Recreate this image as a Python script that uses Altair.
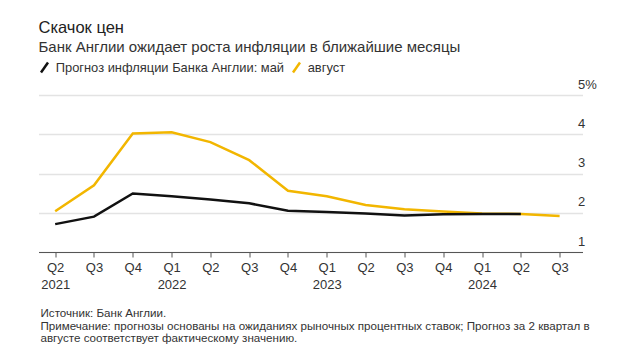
import json
import altair as alt
import pandas as pd

# ---- data ----
quarters = ["Q2", "Q3", "Q4", "Q1", "Q2", "Q3", "Q4", "Q1", "Q2", "Q3", "Q4", "Q1", "Q2", "Q3"]
years = ["2021", "", "", "2022", "", "", "", "2023", "", "", "", "2024", "", ""]
may_forecast = [1.71, 1.90, 2.49, 2.42, 2.34, 2.24, 2.05, 2.02, 1.98, 1.93, 1.96, 1.97, 1.97]
aug_forecast = [2.04, 2.70, 4.02, 4.05, 3.80, 3.34, 2.56, 2.42, 2.20, 2.09, 2.03, 1.98, 1.97, 1.92]
series_names = ["Прогноз инфляции Банка Англии: май", "август"]
series_colors = ["#111111", "#f2b600"]
y_ticks = [1, 2, 3, 4, 5]

title_text = "Скачок цен"
subtitle_text = "Банк Англии ожидает роста инфляции в ближайшие месяцы"
footer_lines = [
    "Источник: Банк Англии.",
    "Примечание: прогнозы основаны на ожиданиях рыночных процентных ставок; Прогноз за 2 квартал в",
    "августе соответствует фактическому значению.",
]

rows = []
for i, v in enumerate(may_forecast):
    rows.append({"idx": i, "value": v, "series": series_names[0]})
for i, v in enumerate(aug_forecast):
    rows.append({"idx": i, "value": v, "series": series_names[1]})
df = pd.DataFrame(rows)

FONT = "Liberation Sans"

x_label_expr = "[{q}[datum.value], {y}[datum.value]]".format(
    q=json.dumps(quarters, ensure_ascii=False), y=json.dumps(years, ensure_ascii=False)
)

x_enc = alt.X(
    "idx:Q",
    scale=alt.Scale(domain=[-0.43, 13.59], nice=False, zero=False),
    axis=alt.Axis(
        values=list(range(len(quarters))),
        labelExpr=x_label_expr,
        labelFontSize=13,
        labelColor="#333333",
        labelLineHeight=17,
        labelPadding=4,
        labelOverlap=False,
        labelFlush=False,
        labelBaseline="top",
        tickSize=5,
        tickColor="#555555",
        tickWidth=1,
        domainColor="#555555",
        domainWidth=1,
        grid=False,
        title=footer_lines,
        titleFontSize=11.6,
        titleFontWeight="normal",
        titleColor="#333333",
        titleAnchor="start",
        titleAlign="left",
        titleBaseline="alphabetic",
        titleLineHeight=12.5,
        titleX=1.5,
        titleY=64.5,
        titleFont=FONT,
    ),
)

y_enc = alt.Y(
    "value:Q",
    scale=alt.Scale(domain=[1, 5], nice=False, zero=False),
    axis=alt.Axis(
        orient="right",
        values=y_ticks,
        labelExpr="datum.value == 5 ? '5%' : datum.label",
        labelAlign="left",
        labelBaseline="alphabetic",
        labelPadding=-5,
        labelOffset=-7,
        labelFontSize=13,
        labelColor="#333333",
        ticks=False,
        domain=False,
        grid=True,
        gridColor="#e3e3e3",
        gridWidth=1.5,
        title=None,
    ),
)

color_enc = alt.Color(
    "series:N",
    scale=alt.Scale(domain=series_names, range=series_colors),
    legend=alt.Legend(
        orient="none",
        legendX=-0.5,
        legendY=-34,
        direction="horizontal",
        gridAlign="none",
        title=None,
        symbolType="M-0.7,1L0.7,-1",
        symbolSize=100,
        symbolStrokeWidth=2.5,
        labelFontSize=12.9,
        labelColor="#333333",
        labelOffset=4.7,
        columnPadding=3,
        labelLimit=400,
    ),
)

base = alt.Chart(df).encode(x=x_enc, y=y_enc, color=color_enc)

aug_layer = base.transform_filter(alt.datum.series == series_names[1]).mark_line(strokeWidth=2.5)
may_layer = base.transform_filter(alt.datum.series == series_names[0]).mark_line(strokeWidth=2.5)

chart = (
    alt.layer(aug_layer, may_layer)
    .properties(
        width=544,
        height=157,
        autosize=alt.AutoSizeParams(type="none"),
        padding={"left": 38.5, "top": 95, "right": 37.5, "bottom": 102},
        title=alt.TitleParams(
            text=title_text,
            subtitle=subtitle_text,
            anchor="start",
            frame="group",
            fontSize=16.5,
            fontWeight="normal",
            color="#222222",
            subtitleFontSize=15,
            subtitleColor="#333333",
            subtitlePadding=3.5,
            font=FONT,
            subtitleFont=FONT,
            offset=6.5,
        ),
    )
    .configure(font=FONT)
    .configure_view(stroke=None)
)

chart.save("out.html", embed_options={"renderer": "svg", "actions": False})
